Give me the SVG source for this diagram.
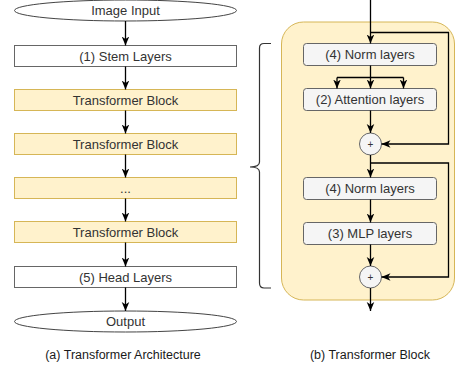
<svg xmlns="http://www.w3.org/2000/svg" width="456" height="366" viewBox="0 0 456 366">
  <style>
    text { font-family: "Liberation Sans", Arial, sans-serif; fill: #333333; text-anchor: middle; dominant-baseline: central; }
    .lbl { font-size: 13px; }
    .cap { font-size: 12.5px; fill: #1a1a1a; }
    .plain { fill: #ffffff; stroke: #666666; stroke-width: 1; }
    .block { fill: #fff2cc; stroke: #d6b656; stroke-width: 1; }
    .gray { fill: #f5f5f5; stroke: #666666; stroke-width: 1; }
    .term { fill: #ffffff; stroke: #444444; stroke-width: 1; }
    .wire { fill: none; stroke: #000000; stroke-width: 1.3; }
    .arr { marker-end: url(#head); }
  </style>
  <defs>
    <marker id="head" markerUnits="userSpaceOnUse" markerWidth="9" markerHeight="9" viewBox="0 0 10 10" refX="10" refY="5" orient="auto">
      <path d="M0,0.8 L10,5 L0,9.2 L2.8,5 z" fill="#000000"/>
    </marker>
  </defs>

  <!-- block container behind the detailed view -->
  <rect id="block-bg" class="block" x="281.5" y="22" width="173" height="278" rx="22"/>

  <!-- left column: overall architecture -->
  <g id="image-input"><ellipse class="term" cx="125.5" cy="10.5" rx="111" ry="10.5"/><text class="lbl" x="125.5" y="10.5">Image Input</text></g>
  <g id="stem"><rect class="plain" x="14.5" y="45.5" width="222" height="21"/><text class="lbl" x="125.5" y="56">(1) Stem Layers</text></g>
  <g id="tb1"><rect class="block" x="14.5" y="89.5" width="222" height="21"/><text class="lbl" x="125.5" y="100">Transformer Block</text></g>
  <g id="tb2"><rect class="block" x="14.5" y="133.5" width="222" height="21"/><text class="lbl" x="125.5" y="144">Transformer Block</text></g>
  <g id="tb-more"><rect class="block" x="14.5" y="177.5" width="222" height="21"/><text class="lbl" x="125.5" y="188">...</text></g>
  <g id="tb3"><rect class="block" x="14.5" y="221.5" width="222" height="21"/><text class="lbl" x="125.5" y="232">Transformer Block</text></g>
  <g id="head-layers"><rect class="plain" x="14.5" y="266.5" width="222" height="21"/><text class="lbl" x="125.5" y="277">(5) Head Layers</text></g>
  <g id="output"><ellipse class="term" cx="125.5" cy="321.5" rx="111" ry="10.5"/><text class="lbl" x="125.5" y="321.5">Output</text></g>

  <!-- right column: block internals -->
  <g id="norm1"><rect class="gray" x="303.5" y="43.5" width="133" height="22" rx="3"/><text class="lbl" x="370" y="54.5">(4) Norm layers</text></g>
  <g id="attn"><rect class="gray" x="303.5" y="88.5" width="133" height="22" rx="3"/><text class="lbl" x="370" y="99.5">(2) Attention layers</text></g>
  <g id="add1"><circle class="gray" cx="370.5" cy="144" r="11"/><text x="370.5" y="144" style="font-size:10px">+</text></g>
  <g id="norm2"><rect class="gray" x="303.5" y="177.5" width="133" height="22" rx="3"/><text class="lbl" x="370" y="188.5">(4) Norm layers</text></g>
  <g id="mlp"><rect class="gray" x="303.5" y="222.5" width="133" height="22" rx="3"/><text class="lbl" x="370" y="233.5">(3) MLP layers</text></g>
  <g id="add2"><circle class="gray" cx="370.5" cy="277" r="11"/><text x="370.5" y="277" style="font-size:10px">+</text></g>

  <!-- brace linking the block to its internals -->
  <path id="brace" d="M271,43.5 H264 Q259.5,43.5 259.5,48 V162 Q259.5,167 250,167 Q259.5,167 259.5,172 V283 Q259.5,288 264,288 H271" fill="none" stroke="#333333" stroke-width="1.2"/>

  <!-- connectors -->
  <g id="connectors">
    <line class="wire arr" x1="125.5" y1="21" x2="125.5" y2="45.5"/>
    <line class="wire arr" x1="125.5" y1="66.5" x2="125.5" y2="89.5"/>
    <line class="wire arr" x1="125.5" y1="110.5" x2="125.5" y2="133.5"/>
    <line class="wire arr" x1="125.5" y1="154.5" x2="125.5" y2="177.5"/>
    <line class="wire arr" x1="125.5" y1="198.5" x2="125.5" y2="221.5"/>
    <line class="wire arr" x1="125.5" y1="242.5" x2="125.5" y2="266.5"/>
    <line class="wire arr" x1="125.5" y1="287.5" x2="125.5" y2="311"/>

    <line class="wire arr" x1="370.5" y1="0" x2="370.5" y2="43.5"/>
    <polyline class="wire arr" points="370.5,32.5 448.5,32.5 448.5,144 381.5,144"/>
    <polyline class="wire" points="370.5,65.5 370.5,77.5"/>
    <line class="wire" x1="337" y1="77.5" x2="403.5" y2="77.5"/>
    <line class="wire arr" x1="337" y1="77.5" x2="337" y2="88.5"/>
    <line class="wire arr" x1="370.5" y1="77.5" x2="370.5" y2="88.5"/>
    <line class="wire arr" x1="403.5" y1="77.5" x2="403.5" y2="88.5"/>
    <line class="wire arr" x1="370.5" y1="110.5" x2="370.5" y2="133"/>
    <line class="wire arr" x1="370.5" y1="155" x2="370.5" y2="177.5"/>
    <polyline class="wire arr" points="370.5,163 448.5,163 448.5,277 381.5,277"/>
    <line class="wire arr" x1="370.5" y1="199.5" x2="370.5" y2="222.5"/>
    <line class="wire arr" x1="370.5" y1="244.5" x2="370.5" y2="266"/>
    <line class="wire arr" x1="370.5" y1="288" x2="370.5" y2="311"/>
  </g>

  <!-- captions -->
  <text class="cap" x="123" y="355">(a) Transformer Architecture</text>
  <text class="cap" x="370" y="355">(b) Transformer Block</text>
</svg>
